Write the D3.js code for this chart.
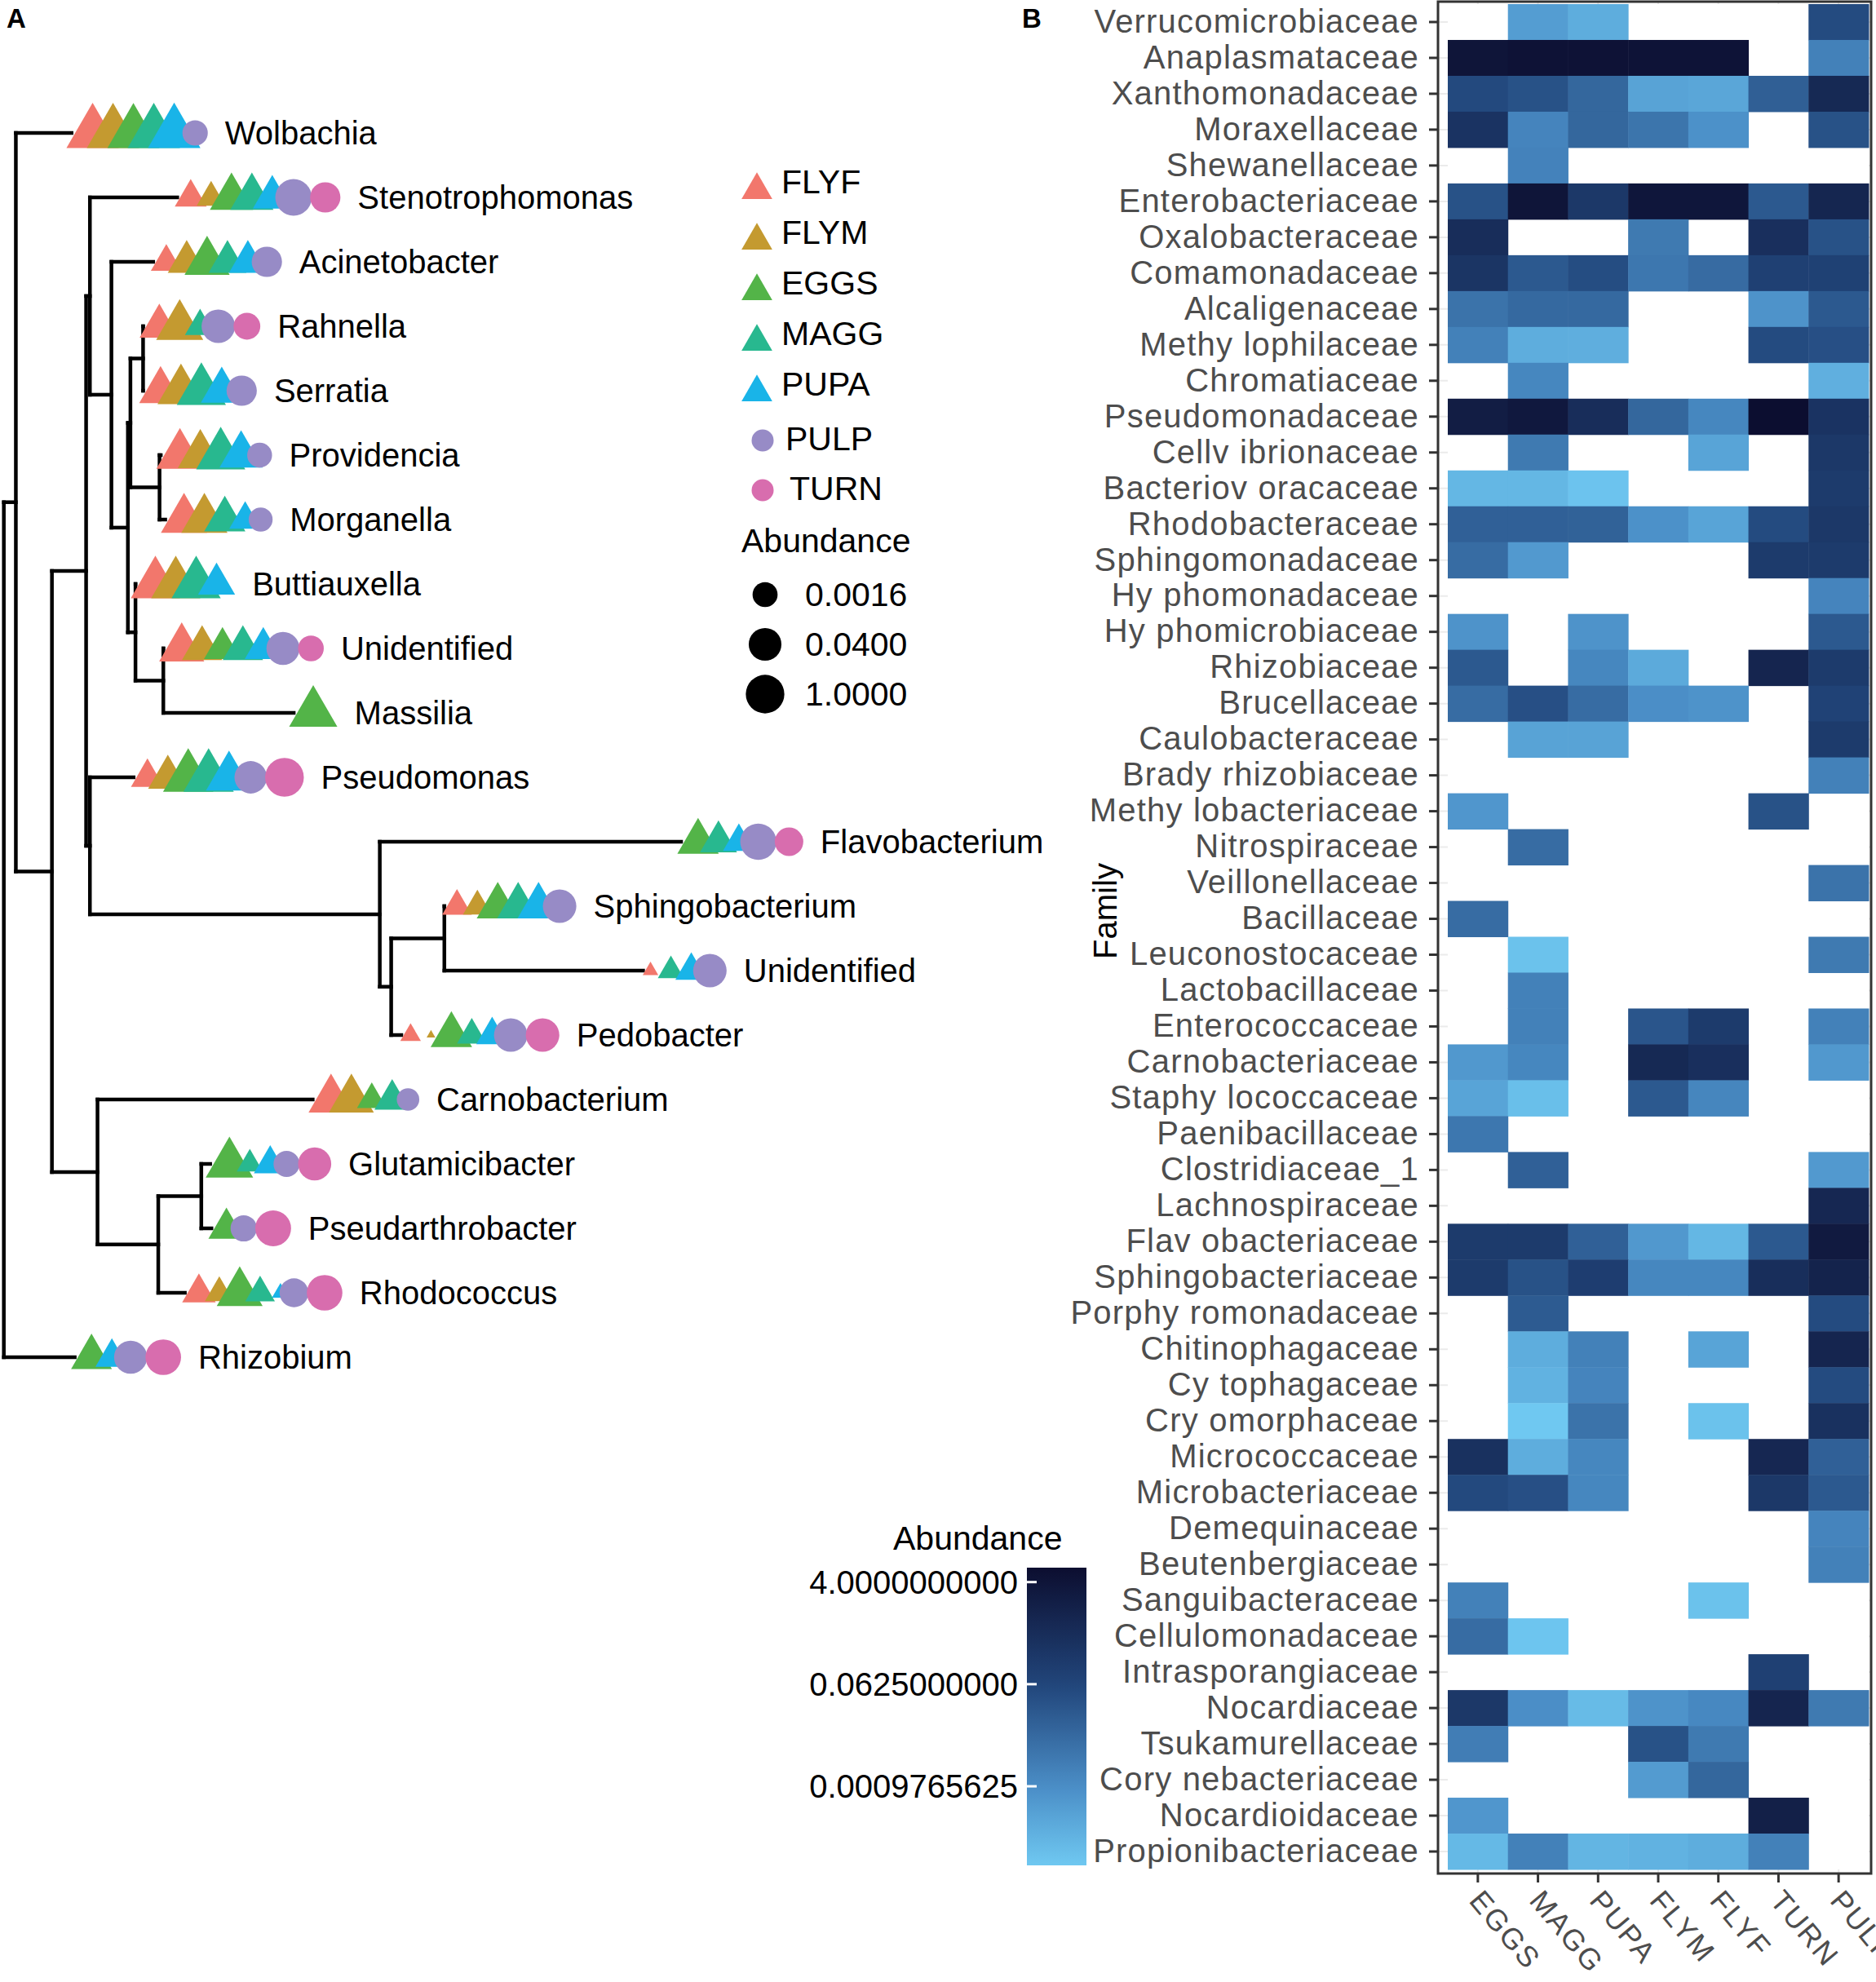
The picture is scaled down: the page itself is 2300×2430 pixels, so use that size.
<!DOCTYPE html>
<html>
<head>
<meta charset="utf-8">
<script src="https://cdn.jsdelivr.net/npm/d3@7"></script>
<style>
  html, body { margin: 0; padding: 0; background: #fff; }
  svg { display: block; font-family: "Liberation Sans", Arial, Helvetica, sans-serif; }
</style>
</head>
<body>
<svg id="chart" width="2300" height="2430"></svg>
<script>
// ---------------------------------------------------------------
// DATA

const samples = ["FLYF", "FLYM", "EGGS", "MAGG", "PUPA", "PULP", "TURN"];
const sampleColours = ["#F2776C", "#C49A30", "#53B448", "#28B88F", "#19B4E8", "#978BC6", "#D86DAE"];
const triangleSamples = ["FLYF", "FLYM", "EGGS", "MAGG", "PUPA"];

// tree as [node, parent, branch length]
const treeEdges = [
  ["root", "", 0],
  ["n1", "root", 0.0095],
  ["Wolbachia", "n1", 0.044],
  ["n2", "n1", 0.0285],
  ["n4", "n2", 0.027],
  ["nGam", "n4", 0.003],
  ["Stenotrophomonas", "nGam", 0.069],
  ["nAc", "nGam", 0.017],
  ["Acinetobacter", "nAc", 0.033],
  ["nB", "nAc", 0.013],
  ["nA", "nB", 0.002],
  ["nRS", "nA", 0.010],
  ["Rahnella", "nRS", 0],
  ["Serratia", "nRS", 0],
  ["nPM", "nA", 0.023],
  ["Providencia", "nPM", 0.001],
  ["Morganella", "nPM", 0.0045],
  ["nBU", "nB", 0.006],
  ["Buttiauxella", "nBU", 0],
  ["nUM", "nBU", 0.022],
  ["Unidentified_1", "nUM", 0],
  ["Massilia", "nUM", 0.103],
  ["nY", "n4", 0.003],
  ["Pseudomonas", "nY", 0.0345],
  ["n7", "nY", 0.229],
  ["Flavobacterium", "n7", 0.238],
  ["n10", "n7", 0.009],
  ["n11", "n10", 0.042],
  ["Sphingobacterium", "n11", 0],
  ["Unidentified_2", "n11", 0.157],
  ["Pedobacter", "n10", 0.008],
  ["n3", "n2", 0.036],
  ["Carnobacterium", "n3", 0.170],
  ["n5", "n3", 0.048],
  ["n6", "n5", 0.034],
  ["Glutamicibacter", "n6", 0.007],
  ["Pseudarthrobacter", "n6", 0.008],
  ["Rhodococcus", "n5", 0.021],
  ["Rhizobium", "root", 0.056]
];

const genera = ["Wolbachia", "Stenotrophomonas", "Acinetobacter", "Rahnella", "Serratia",
  "Providencia", "Morganella", "Buttiauxella", "Unidentified_1", "Massilia", "Pseudomonas",
  "Flavobacterium", "Sphingobacterium", "Unidentified_2", "Pedobacter", "Carnobacterium",
  "Glutamicibacter", "Pseudarthrobacter", "Rhodococcus", "Rhizobium"];

// abundance of each genus per sample (0 = not found)
const tipFLYF = [1.2, 0.001, 0.0008, 0.008, 0.025, 0.13, 0.09, 0.3, 0.06, 0, 0.0013, 0, 0.0006, 0.00008, 0.00013, 0.055, 0, 0, 0.0015, 0];
const tipFLYM = [1.2, 0.0005, 0.005, 0.13, 0.12, 0.06, 0.09, 0.3, 0.011, 0, 0.008, 0, 0.0005, 0, 0.00005, 0.055, 0, 0, 0.0005, 0];
const tipEGGS = [1.0, 0.03, 0.06, 0, 0, 0, 0, 0, 0.004, 0.2, 0.5, 0.016, 0.02, 0, 0.016, 0.0006, 0.15, 0.003, 0.08, 0.013];
const tipMAGG = [1.2, 0.03, 0.005, 0.0007, 0.3, 0.3, 0.015, 0.3, 0.011, 0, 0.5, 0.004, 0.02, 0.0003, 0.0006, 0.0025, 0.0003, 0, 0.0006, 0];
const tipPUPA = [1.3, 0.007, 0.005, 0, 0.018, 0.03, 0.001, 0.004, 0.004, 0, 0.09, 0.001, 0.02, 0.001, 0.001, 0, 0.0012, 0, 0.00009, 0.0013];
const tipPULP = [0.0018, 0.3, 0.013, 0.06, 0.013, 0.0015, 0.0011, 0, 0.05, 0, 0.035, 0.25, 0.06, 0.06, 0.06, 0.0007, 0.0023, 0.0025, 0.007, 0.05];
const tipTURN = [0, 0.013, 0, 0.003, 0, 0, 0, 0, 0.002, 0, 1.1, 0.006, 0, 0, 0.06, 0, 0.05, 0.2, 0.18, 0.18];

const sizeBreaks = [0.0016, 0.04, 1];
const sizeBreakLabels = ["0.0016", "0.0400", "1.0000"];

// heatmap
const families = ["Verrucomicrobiaceae", "Anaplasmataceae", "Xanthomonadaceae", "Moraxellaceae",
  "Shewanellaceae", "Enterobacteriaceae", "Oxalobacteraceae", "Comamonadaceae", "Alcaligenaceae",
  "Methy lophilaceae", "Chromatiaceae", "Pseudomonadaceae", "Cellv ibrionaceae", "Bacteriov oracaceae",
  "Rhodobacteraceae", "Sphingomonadaceae", "Hy phomonadaceae", "Hy phomicrobiaceae", "Rhizobiaceae",
  "Brucellaceae", "Caulobacteraceae", "Brady rhizobiaceae", "Methy lobacteriaceae", "Nitrospiraceae",
  "Veillonellaceae", "Bacillaceae", "Leuconostocaceae", "Lactobacillaceae", "Enterococcaceae",
  "Carnobacteriaceae", "Staphy lococcaceae", "Paenibacillaceae", "Clostridiaceae_1", "Lachnospiraceae",
  "Flav obacteriaceae", "Sphingobacteriaceae", "Porphy romonadaceae", "Chitinophagaceae", "Cy tophagaceae",
  "Cry omorphaceae", "Micrococcaceae", "Microbacteriaceae", "Demequinaceae", "Beutenbergiaceae",
  "Sanguibacteraceae", "Cellulomonadaceae", "Intrasporangiaceae", "Nocardiaceae", "Tsukamurellaceae",
  "Cory nebacteriaceae", "Nocardioidaceae", "Propionibacteriaceae"];

const heatSamples = ["EGGS", "MAGG", "PUPA", "FLYM", "FLYF", "TURN", "PULP"];

const heatEGGS = [0, 4, 0.05, 0.3, 0, 0.03, 0.5, 0.25, 0.0045, 0.002, 0, 2, 0, 1e-4, 0.013, 0.0065, 0, 7e-4, 0.02, 0.0065,
  0, 0, 6e-4, 0, 0, 0.0065, 0, 0, 0, 5.5e-4, 2.8e-4, 0.0035, 0, 0, 0.15, 0.15, 0, 0, 0, 0,
  0.35, 0.05, 0, 0, 0.002, 0.0065, 0, 0.2, 0.0025, 0, 6e-4, 9e-5];
const heatMAGG = [4e-4, 5, 0.03, 0.0016, 0.0018, 4, 0, 0.02, 0.008, 1.7e-4, 0.0014, 3, 0.003, 1e-4, 0.013, 5e-4, 0, 0, 0, 0.035,
  3e-4, 0, 0, 0.0065, 0, 0, 5.5e-5, 0.002, 0.002, 0.0014, 6.5e-5, 0, 0.013, 0, 0.15, 0.03, 0.018, 1.7e-4, 1.3e-4, 3.9e-5,
  1.7e-4, 0.035, 0, 0, 0, 4.5e-5, 0, 9e-4, 0, 0, 0, 0.002];
const heatPUPA = [1.7e-4, 5, 0.009, 0.009, 0, 0.2, 0, 0.04, 0.008, 1.6e-4, 0, 0.5, 0, 5e-5, 0.012, 0, 0, 7e-4, 0.0014, 0.0065,
  3e-4, 0, 0, 0, 0, 0, 0, 0, 0, 0, 0, 0, 0, 0, 0.013, 0.12, 0, 0.002, 0.0016, 0.0045,
  0.0014, 0.0014, 0, 0, 0, 0, 0, 8e-5, 0, 0, 0, 1.1e-4];
const heatFLYM = [0, 4.5, 3e-4, 0.004, 0, 3.5, 0.003, 0.0035, 0, 0, 0, 0.009, 0, 0, 8e-4, 0, 0, 0, 2e-4, 9e-4,
  0, 0, 0, 0, 0, 0, 0, 0, 0.025, 0.7, 0.02, 0, 0, 0, 5.5e-4, 0.0014, 0, 0, 0, 0,
  0, 0, 0, 0, 0, 0, 0, 7e-4, 0.03, 4.5e-4, 0, 1.3e-4];
const heatFLYF = [0, 4.5, 2.5e-4, 8e-4, 0, 3.5, 0, 0.007, 0, 0, 0, 0.0014, 2.8e-4, 0, 2.8e-4, 0, 0, 0, 0, 7e-4,
  0, 0, 0, 0, 0, 0, 0, 0, 0.15, 0.4, 0.0015, 0, 0, 0, 1e-4, 0.0014, 0, 2.8e-4, 0, 5.5e-5,
  0, 0, 0, 0, 5.5e-5, 0, 0, 0.0013, 0.003, 0.009, 0, 1.7e-4];
const heatTURN = [0, 0, 0.014, 0, 0, 0.02, 0.4, 0.1, 7e-4, 0.045, 0, 7.2, 0, 0, 0.045, 0.15, 0, 0, 1.0, 0,
  0, 0, 0.03, 0, 0, 0, 0, 0, 0, 0, 0, 0, 0, 0, 0.02, 0.45, 0, 0, 0, 0,
  0.8, 0.2, 0, 0, 0, 0, 0.1, 1.0, 0, 0, 1.5, 0.002];
const heatPULP = [0.045, 0.002, 0.7, 0.03, 0, 0.9, 0.03, 0.09, 0.02, 0.035, 1.5e-4, 0.3, 0.2, 0.15, 0.2, 0.15, 0.0016, 0.02, 0.15, 0.08,
  0.15, 0.002, 0, 0, 0.0045, 0, 0.003, 0, 0.002, 5.5e-4, 0, 0, 5e-4, 0.8, 2.5, 1.2, 0.045, 1.0, 0.045, 0.35,
  0.013, 0.02, 0.0016, 0.002, 0, 0, 0, 0.003, 0, 0, 0, 0];

const colourBreaks = [4, 0.0625, 0.0009765625];
const colourBreakLabels = ["4.0000000000", "0.0625000000", "0.0009765625"];

// ---------------------------------------------------------------
// SETUP

const svg = d3.select("#chart");
const colourOf = d3.scaleOrdinal().domain(samples).range(sampleColours);
const shapeOf = s => triangleSamples.includes(s) ? "tri" : "dot";

// point size: log abundance -> diameter (area style, like scale_size)
const sizeT = d3.scaleLog().domain([6.3e-5, 4]).range([0, 1]).clamp(true);
const diam = d3.scaleSqrt().domain([0, 1]).range([8, 50]);
const radiusOf = v => diam(sizeT(v)) / 2;

// R-style filled triangle with centroid at (x, y) and equal area to a circle of radius r
const trianglePath = (x, y, r) => {
  const top = 1.555 * r, half = 1.347 * r, base = 0.778 * r;
  return `M${x},${y - top}L${x + half},${y + base}L${x - half},${y + base}Z`;
};
const halfWidth = (shape, r) => shape === "tri" ? 1.347 * r : r;

function drawShape(g, shape, x, y, r, fill) {
  if (shape === "tri") {
    g.append("path").attr("d", trianglePath(x, y, r)).attr("fill", fill);
  } else {
    g.append("circle").attr("cx", x).attr("cy", y).attr("r", r).attr("fill", fill);
  }
}

// panel letters
svg.append("text").attr("x", 8).attr("y", 34).attr("font-size", 33).attr("font-weight", "bold").text("A");
svg.append("text").attr("x", 1253).attr("y", 34).attr("font-size", 33).attr("font-weight", "bold").text("B");

// ---------------------------------------------------------------
// PANEL A : TREE

const root = d3.stratify()
  .id(d => d[0])
  .parentId(d => d[1] || null)(treeEdges);

root.each(n => { n.depthLen = n.parent ? n.parent.depthLen + n.data[2] : 0; });

const leaves = root.leaves();
const xTree = d3.scaleLinear().domain([0, 0.535]).range([4.7, 835]);
const yTree = d3.scalePoint().domain(leaves.map(d => d.id)).range([163, 1664]);

root.eachAfter(n => {
  n.yPos = n.children ? d3.mean(n.children, c => c.yPos) : yTree(n.id);
  n.xPos = xTree(n.depthLen);
});

const treeG = svg.append("g").attr("class", "tree");
const lineStyle = sel => sel.attr("stroke", "#000").attr("stroke-width", 4.5)
  .attr("stroke-linecap", "square").attr("fill", "none");

root.descendants().forEach(n => {
  if (n.parent) {
    treeG.append("line").attr("x1", n.parent.xPos).attr("x2", n.xPos)
      .attr("y1", n.yPos).attr("y2", n.yPos).call(lineStyle);
  }
  if (n.children) {
    const ys = d3.extent(n.children, c => c.yPos);
    treeG.append("line").attr("x1", n.xPos).attr("x2", n.xPos)
      .attr("y1", ys[0]).attr("y2", ys[1]).call(lineStyle);
  }
});

// tip points
const tipTables = [tipFLYF, tipFLYM, tipEGGS, tipMAGG, tipPUPA, tipPULP, tipTURN];
const pointsG = svg.append("g").attr("class", "tips");

function gapBetween(a, b) {
  if (a.shape === "tri" && b.shape === "tri") return 25;
  if (a.shape === "dot" && b.shape === "dot") return 0.95 * (a.r + b.r);
  return 0.65 * (a.r + b.r);
}

leaves.forEach(leaf => {
  const gi = genera.indexOf(leaf.id);
  const marks = samples
    .map((s, si) => ({ s, v: tipTables[si][gi], shape: shapeOf(s) }))
    .filter(d => d.v > 0)
    .map(d => Object.assign(d, { r: radiusOf(d.v) }));

  let cx = leaf.xPos;
  marks.forEach((m, i) => {
    cx = i === 0 ? leaf.xPos + m.r + 2 : cx + gapBetween(marks[i - 1], m);
    m.x = cx;
  });
  marks.forEach(m => drawShape(pointsG, m.shape, m.x, leaf.yPos, m.r, colourOf(m.s)));

  const last = marks[marks.length - 1];
  const labelX = last.x + halfWidth(last.shape, last.r) + 21;
  svg.append("text")
    .attr("x", labelX).attr("y", leaf.yPos).attr("dy", "0.35em")
    .attr("font-size", 40).attr("fill", "#000")
    .text(leaf.id.replace(/_\d+$/, ""));
});

// legend for samples and size
const legG = svg.append("g").attr("class", "legend");
samples.forEach((s, i) => {
  const tri = shapeOf(s) === "tri";
  const ty = tri ? 223 + i * 62 : 538 + (i - 5) * 61;
  drawShape(legG, shapeOf(s), tri ? 928 : 935, tri ? ty + 10 : ty + 2, tri ? 14 : 13.5, colourOf(s));
  legG.append("text").attr("x", tri ? 958 : 963 + (i - 5) * 5).attr("y", ty).attr("dy", "0.35em")
    .attr("font-size", 41).text(s);
});
legG.append("text").attr("x", 909).attr("y", 663).attr("dy", "0.35em").attr("font-size", 41).text("Abundance");
sizeBreaks.forEach((v, i) => {
  const y = 729 + i * 61;
  legG.append("circle").attr("cx", 938).attr("cy", y).attr("r", radiusOf(v)).attr("fill", "#000");
  legG.append("text").attr("x", 987).attr("y", y).attr("dy", "0.35em").attr("font-size", 41).text(sizeBreakLabels[i]);
});

// ---------------------------------------------------------------
// PANEL B : HEATMAP

const heatTables = [heatEGGS, heatMAGG, heatPUPA, heatFLYM, heatFLYF, heatTURN, heatPULP];
const cells = [];
families.forEach((f, fi) => heatSamples.forEach((s, si) => {
  const v = heatTables[si][fi];
  if (v > 0) cells.push({ f, s, v });
}));

const logExtent = d3.extent(cells, d => Math.log2(d.v));
const fillOf = d3.scaleLinear()
  .domain([logExtent[0], -10, -4, logExtent[1]])
  .range(["#6FC8F1", "#4A8DC6", "#21457A", "#0C0E30"]);

const xHeat = d3.scaleBand().domain(heatSamples).range([1775, 2291]);
const yHeat = d3.scaleBand().domain(families).range([5, 2292]);
const panel = { x0: 1763, x1: 2294, y0: 2, y1: 2297 };

const heatG = svg.append("g").attr("class", "heatmap");

// faint grid, then white tile area
heatG.selectAll("line.gy").data(families).enter().append("line")
  .attr("x1", panel.x0).attr("x2", panel.x1)
  .attr("y1", d => yHeat(d) + yHeat.bandwidth() / 2).attr("y2", d => yHeat(d) + yHeat.bandwidth() / 2)
  .attr("stroke", "#EBEBEB").attr("stroke-width", 2);
heatG.selectAll("line.gx").data(heatSamples).enter().append("line")
  .attr("y1", panel.y0).attr("y2", panel.y1)
  .attr("x1", d => xHeat(d) + xHeat.bandwidth() / 2).attr("x2", d => xHeat(d) + xHeat.bandwidth() / 2)
  .attr("stroke", "#EBEBEB").attr("stroke-width", 2);
heatG.append("rect").attr("x", xHeat.range()[0]).attr("y", yHeat.range()[0])
  .attr("width", xHeat.range()[1] - xHeat.range()[0]).attr("height", yHeat.range()[1] - yHeat.range()[0])
  .attr("fill", "#fff");

heatG.selectAll("rect.cell").data(cells).enter().append("rect")
  .attr("class", "cell")
  .attr("x", d => xHeat(d.s)).attr("y", d => yHeat(d.f))
  .attr("width", xHeat.bandwidth() + 0.5).attr("height", yHeat.bandwidth() + 0.5)
  .attr("fill", d => fillOf(Math.log2(d.v)));

heatG.append("rect")
  .attr("x", panel.x0).attr("y", panel.y0)
  .attr("width", panel.x1 - panel.x0).attr("height", panel.y1 - panel.y0)
  .attr("fill", "none").attr("stroke", "#333").attr("stroke-width", 3);

// y axis
const yAxisG = heatG.append("g").attr("transform", `translate(${panel.x0},0)`)
  .call(d3.axisLeft(yHeat).tickSize(11).tickPadding(12));
yAxisG.select(".domain").remove();
yAxisG.selectAll(".tick line").attr("stroke", "#333").attr("stroke-width", 3);
yAxisG.selectAll(".tick text")
  .attr("font-size", 40).attr("letter-spacing", "1.2px").attr("fill", "#4D4D4D")
  .attr("font-family", "'Liberation Sans', Arial, sans-serif");

// x axis
const xAxisG = heatG.append("g").attr("transform", `translate(0,${panel.y1})`)
  .call(d3.axisBottom(xHeat).tickSize(11).tickPadding(0));
xAxisG.select(".domain").remove();
xAxisG.selectAll(".tick line").attr("stroke", "#333").attr("stroke-width", 3);
xAxisG.selectAll(".tick text")
  .attr("font-size", 36).attr("letter-spacing", "2px").attr("fill", "#4D4D4D")
  .attr("font-family", "'Liberation Sans', Arial, sans-serif")
  .attr("text-anchor", "start").attr("dy", null).attr("y", 0)
  .attr("transform", "translate(-12,34) rotate(50)");

// axis title
svg.append("text")
  .attr("transform", "translate(1369,1117) rotate(-90)")
  .attr("text-anchor", "middle").attr("font-size", 40).text("Family");

// colour bar
const cb = { x: 1259, w: 73, y0: 1922, y1: 2287 };
const yCb = d3.scaleLinear().domain(logExtent).range([cb.y1, cb.y0]);
const grad = svg.append("defs").append("linearGradient")
  .attr("id", "cbGrad").attr("x1", 0).attr("x2", 0).attr("y1", 1).attr("y2", 0);
d3.range(0, 1.0001, 0.05).forEach(t => {
  const lv = logExtent[0] + t * (logExtent[1] - logExtent[0]);
  grad.append("stop").attr("offset", t).attr("stop-color", fillOf(lv));
});
svg.append("rect").attr("x", cb.x).attr("y", cb.y0).attr("width", cb.w).attr("height", cb.y1 - cb.y0)
  .attr("fill", "url(#cbGrad)");
colourBreaks.forEach((v, i) => {
  const y = yCb(Math.log2(v));
  svg.append("line").attr("x1", cb.x).attr("x2", cb.x + 12).attr("y1", y).attr("y2", y)
    .attr("stroke", "#fff").attr("stroke-width", 3);
  svg.append("text").attr("x", 1248).attr("y", y).attr("dy", "0.35em")
    .attr("text-anchor", "end").attr("font-size", 40).text(colourBreakLabels[i]);
});
svg.append("text").attr("x", 1095).attr("y", 1886).attr("dy", "0.35em").attr("font-size", 41).text("Abundance");
</script>
</body>
</html>
